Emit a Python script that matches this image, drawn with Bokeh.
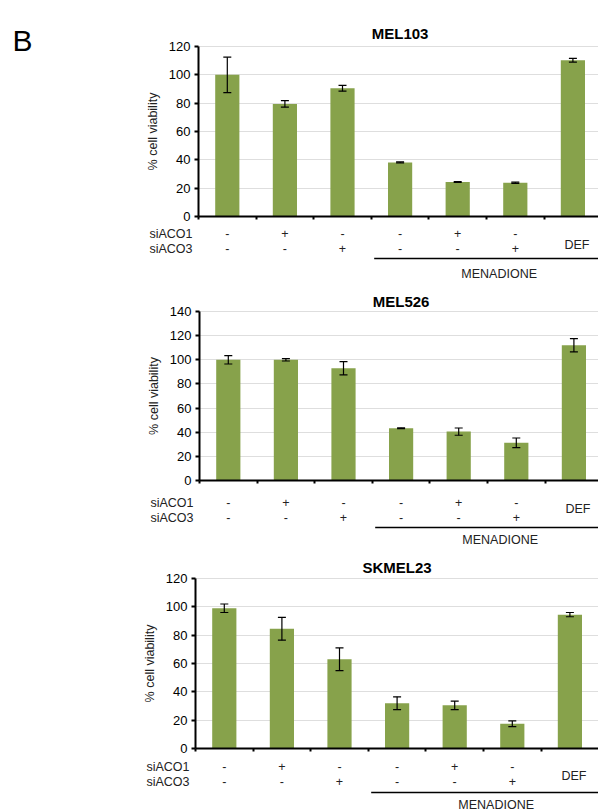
from bokeh.plotting import figure
from bokeh.models import ColumnDataSource, Range1d, FixedTicker, Whisker, TeeHead
from bokeh.core.properties import value
from bokeh.layouts import column
from bokeh.embed import file_html
from bokeh.resources import INLINE

# ---------------- data ----------------
conditions = ["Control", "siACO1", "siACO3", "Menadione", "Menadione + siACO1",
              "Menadione + siACO3", "DEF"]
siaco1_signs = ["-", "+", "-", "-", "+", "-"]
siaco3_signs = ["-", "-", "+", "-", "-", "+"]
row_names = ["siACO1", "siACO3"]
group_label = "MENADIONE"

mel103_values = [100.0, 79.5, 90.5, 38.2, 24.3, 23.8, 110.3]
mel103_errors = [12.5, 2.3, 2.0, 0.3, 0.3, 0.4, 1.3]

mel526_values = [100.0, 100.0, 93.0, 43.3, 40.5, 31.2, 112.0]
mel526_errors = [3.5, 1.0, 5.5, 0.4, 3.0, 4.0, 5.5]

skmel23_values = [99.0, 84.5, 63.0, 32.0, 30.5, 17.5, 94.5]
skmel23_errors = [3.0, 8.0, 8.0, 4.5, 3.0, 2.0, 1.5]

panels = [
    ("MEL103", mel103_values, mel103_errors, 120),
    ("MEL526", mel526_values, mel526_errors, 140),
    ("SKMEL23", skmel23_values, skmel23_errors, 120),
]

# ---------------- styling / layout (pixels) ----------------
FONT = "Liberation Sans"
BAR_COLOR = "#87A24B"
FIG_W = 598
CAT_W = 57.6          # pixel width of one category
# per panel: (fig height, axis x, title y, top-tick y, zero y,
#             row1 offset, row2 offset, DEF offset, bracket offset, menadione offset)
layout_specs = [
    (285, 198, 33, 46, 216, 17, 32, 28, 42, 57),
    (267, 199, 16, 26, 195, 22, 37, 28, 47, 59),
    (258, 195, 15, 26, 196, 18, 33, 27, 44, 56),
]

figs = []
for (name, vals, errs, ymax), spec in zip(panels, layout_specs):
    H, axis_x, ty, top_px, zero_px, r1, r2, rdef, rl, rm = spec
    n = len(conditions)
    scale = (zero_px - top_px) / ymax          # px per unit

    def to_y(px, ymax=ymax, top_px=top_px, scale=scale):
        return ymax - (px - top_px) / scale

    def to_x(px, axis_x=axis_x):
        return (px - axis_x) / CAT_W

    xs = [i + 0.5 for i in range(n)]
    src = ColumnDataSource(dict(
        x=xs, top=vals,
        upper=[v + e for v, e in zip(vals, errs)],
        lower=[v - e for v, e in zip(vals, errs)],
        cond=conditions,
    ))

    p = figure(frame_width=FIG_W, frame_height=H,
               x_range=Range1d(to_x(0), to_x(FIG_W)),
               y_range=Range1d(to_y(H), to_y(0)),
               output_backend="svg", toolbar_location=None,
               min_border=0)
    p.outline_line_color = None
    p.background_fill_color = "white"
    p.border_fill_color = "white"

    # grid only inside the plotting area
    p.xgrid.visible = False
    p.ygrid.grid_line_color = "#dedede"
    p.ygrid.grid_line_width = 1
    p.ygrid.ticker = FixedTicker(ticks=list(range(20, ymax + 1, 20)))
    p.ygrid.cross_bounds = (0, n + 0.1)

    p.vbar(x="x", top="top", width=0.42, bottom=0, source=src,
           fill_color=BAR_COLOR, line_color=None)

    wh = Whisker(base="x", upper="upper", lower="lower", source=src,
                 line_color="black", line_width=1.2, level="overlay",
                 upper_head=TeeHead(size=8, line_color="black", line_width=1.2),
                 lower_head=TeeHead(size=8, line_color="black", line_width=1.2))
    p.add_layout(wh)

    # value axis, fixed at x = 0
    p.yaxis.fixed_location = 0
    p.yaxis.bounds = (0, ymax)
    p.yaxis.ticker = FixedTicker(ticks=list(range(0, ymax + 1, 20)))
    p.yaxis.axis_line_width = 2
    p.yaxis.axis_line_color = "black"
    p.yaxis.major_tick_line_width = 2
    p.yaxis.major_tick_out = 4
    p.yaxis.major_tick_in = 0
    p.yaxis.minor_tick_line_color = None
    p.yaxis.major_label_text_font = FONT
    p.yaxis.major_label_text_font_size = "13px"
    p.yaxis.major_label_text_color = "black"
    p.yaxis.major_label_standoff = 4
    p.yaxis.axis_label = "% cell viability"
    p.yaxis.axis_label_text_font = FONT
    p.yaxis.axis_label_text_font_size = "12.5px"
    p.yaxis.axis_label_text_font_style = "normal"
    p.yaxis.axis_label_text_color = "#222222"
    p.yaxis.axis_label_standoff = 6

    # category axis, fixed at y = 0 (ticks at category boundaries, no labels)
    p.xaxis.fixed_location = 0
    p.xaxis.bounds = (0, n + 0.1)
    p.xaxis.ticker = FixedTicker(ticks=[], minor_ticks=list(range(0, n + 1)))
    p.xaxis.axis_line_width = 2
    p.xaxis.axis_line_color = "black"
    p.xaxis.major_tick_line_color = None
    p.xaxis.minor_tick_line_color = "black"
    p.xaxis.minor_tick_line_width = 2
    p.xaxis.minor_tick_out = 3
    p.xaxis.minor_tick_in = 0

    txt = dict(text_font=value(FONT), text_font_size="12.5px", text_color="#222222",
               text_baseline="middle")
    # title
    p.text(x=[n / 2], y=[to_y(ty)], text=[name], text_align="center",
           text_font=value(FONT), text_font_size="15px", text_font_style="bold",
           text_color="black", text_baseline="middle")
    # row names
    p.text(x=[to_x(axis_x - 6)] * 2, y=[to_y(zero_px + r1), to_y(zero_px + r2)],
           text=row_names, text_align="right", **txt)
    # +/- signs
    p.text(x=xs[:6], y=[to_y(zero_px + r1)] * 6, text=siaco1_signs,
           text_align="center", **txt)
    p.text(x=xs[:6], y=[to_y(zero_px + r2)] * 6, text=siaco3_signs,
           text_align="center", **txt)
    p.text(x=[xs[-1] + 0.07], y=[to_y(zero_px + rdef)], text=[conditions[-1]],
           text_align="center", **txt)
    # menadione bracket
    p.segment(x0=[3.05], y0=[to_y(zero_px + rl)], x1=[to_x(FIG_W)], y1=[to_y(zero_px + rl)],
              line_color="black", line_width=1.5)
    p.text(x=[5.22], y=[to_y(zero_px + rm)], text=[group_label], text_align="center", **txt)

    if name == "MEL103":
        p.text(x=[to_x(12)], y=[to_y(40)], text=["B"], text_align="left",
               text_baseline="middle", text_font=value(FONT), text_font_size="30px",
               text_color="black")
    figs.append(p)

layout = column(*figs, spacing=0)
open("out.html", "w").write(file_html(layout, INLINE))
